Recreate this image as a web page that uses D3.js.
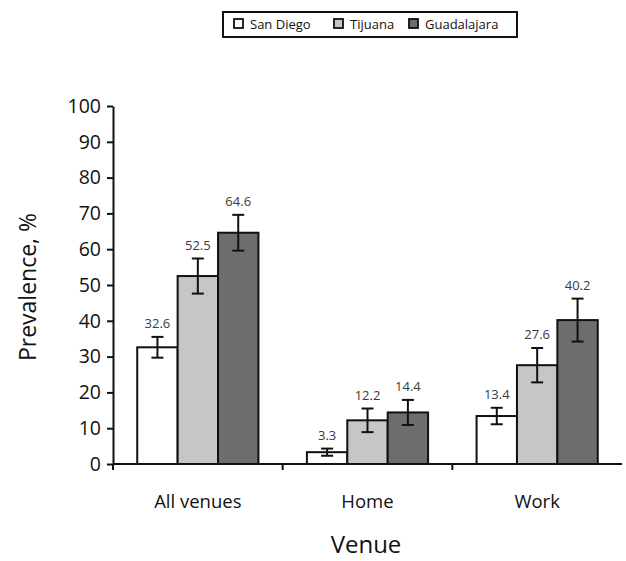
<!DOCTYPE html>
<html>
<head>
<meta charset="utf-8">
<script src="https://cdn.jsdelivr.net/npm/d3@7"></script>
<style>
  body { margin: 0; background: #fff; }
  svg { font-family: "Open Sans", "Liberation Sans", sans-serif; }
</style>
</head>
<body>
<div id="viz"></div>
<script>
// data
const venues = ["All venues", "Home", "Work"];
const cities = ["San Diego", "Tijuana", "Guadalajara"];
const sanDiego = [32.6, 3.3, 13.4];
const tijuana = [52.5, 12.2, 27.6];
const guadalajara = [64.6, 14.4, 40.2];
const errSanDiego = [2.9, 1.0, 2.3];
const errTijuana = [4.9, 3.3, 4.8];
const errGuadalajara = [5.0, 3.5, 6.0];
const yTicks = [0, 10, 20, 30, 40, 50, 60, 70, 80, 90, 100];

const colors = ["#ffffff", "#c6c6c6", "#6d6d6d"];
const values = [sanDiego, tijuana, guadalajara];
const errors = [errSanDiego, errTijuana, errGuadalajara];

const width = 626;
const height = 561;

const svg = d3.select("#viz")
    .append("svg")
    .attr("width", width)
    .attr("height", height);

const x = d3.scaleBand()
    .domain(venues)
    .range([113, 622]);

const inner = d3.scaleBand()
    .domain(cities)
    .range([0, x.bandwidth()])
    .paddingInner(0)
    .paddingOuter(0.6);

const y = d3.scaleLinear()
    .domain([0, 100])
    .range([464, 106]);

// y axis
const yAxis = svg.append("g")
    .attr("transform", "translate(113,0)")
    .call(d3.axisLeft(y).tickValues(yTicks).tickSize(6).tickSizeOuter(0).tickPadding(6));
yAxis.select(".domain").attr("stroke", "#111").attr("stroke-width", 2);
yAxis.selectAll(".tick line").attr("stroke", "#111").attr("stroke-width", 2);
yAxis.selectAll(".tick text")
    .attr("font-size", 19.5)
    .attr("fill", "#111")
    .attr("font-family", "'Open Sans', sans-serif");

// bars
const rows = [];
venues.forEach((v, i) => {
    cities.forEach((c, j) => {
        rows.push({ venue: v, city: c, j: j, value: values[j][i], err: errors[j][i] });
    });
});

const bars = svg.append("g");
bars.selectAll("rect")
    .data(rows)
    .enter()
    .append("rect")
    .attr("x", d => x(d.venue) + inner(d.city))
    .attr("y", d => y(d.value))
    .attr("width", inner.bandwidth())
    .attr("height", d => y(0) - y(d.value))
    .attr("fill", d => colors[d.j])
    .attr("stroke", "#111")
    .attr("stroke-width", 2);

// error bars
const eb = svg.append("g").attr("stroke", "#111").attr("stroke-width", 2);
rows.forEach(d => {
    const cx = x(d.venue) + inner(d.city) + inner.bandwidth() / 2;
    const top = y(d.value + d.err);
    const bot = y(d.value - d.err);
    eb.append("line").attr("x1", cx).attr("x2", cx).attr("y1", top).attr("y2", bot);
    eb.append("line").attr("x1", cx - 6).attr("x2", cx + 6).attr("y1", top).attr("y2", top);
    eb.append("line").attr("x1", cx - 6).attr("x2", cx + 6).attr("y1", bot).attr("y2", bot);
});

// value labels
svg.append("g")
    .selectAll("text")
    .data(rows)
    .enter()
    .append("text")
    .attr("x", d => x(d.venue) + inner(d.city) + inner.bandwidth() / 2)
    .attr("y", d => y(d.value + d.err) - 9)
    .attr("text-anchor", "middle")
    .attr("font-size", 13)
    .attr("fill", "#3a3a3a")
    .text(d => d.value.toFixed(1));

// x axis
svg.append("line")
    .attr("x1", 113).attr("x2", 622)
    .attr("y1", y(0)).attr("y2", y(0))
    .attr("stroke", "#111").attr("stroke-width", 2);

svg.append("g")
    .selectAll("line")
    .data(venues)
    .enter()
    .append("line")
    .attr("x1", d => x(d)).attr("x2", d => x(d))
    .attr("y1", y(0)).attr("y2", y(0) + 6)
    .attr("stroke", "#111").attr("stroke-width", 2);

svg.append("g")
    .selectAll("text")
    .data(venues)
    .enter()
    .append("text")
    .attr("x", d => x(d) + x.bandwidth() / 2)
    .attr("y", 508)
    .attr("text-anchor", "middle")
    .attr("font-size", 18.5)
    .attr("fill", "#111")
    .text(d => d);

// axis titles
svg.append("text")
    .attr("x", 366)
    .attr("y", 553)
    .attr("text-anchor", "middle")
    .attr("font-size", 24)
    .attr("fill", "#111")
    .text("Venue");

svg.append("text")
    .attr("transform", "translate(36,287) rotate(-90)")
    .attr("text-anchor", "middle")
    .attr("font-size", 23)
    .attr("fill", "#111")
    .text("Prevalence, %");

// legend
const legend = svg.append("g");
legend.append("rect")
    .attr("x", 223).attr("y", 12)
    .attr("width", 294).attr("height", 25)
    .attr("fill", "#fff")
    .attr("stroke", "#111")
    .attr("stroke-width", 2);

const legendX = [234, 334, 409];
cities.forEach((c, j) => {
    legend.append("rect")
        .attr("x", legendX[j]).attr("y", 19)
        .attr("width", 9).attr("height", 9)
        .attr("fill", colors[j])
        .attr("stroke", "#111")
        .attr("stroke-width", 1.8);
    legend.append("text")
        .attr("x", legendX[j] + 16)
        .attr("y", 29)
        .attr("font-size", 13)
        .attr("fill", "#111")
        .text(c);
});
</script>
</body>
</html>
